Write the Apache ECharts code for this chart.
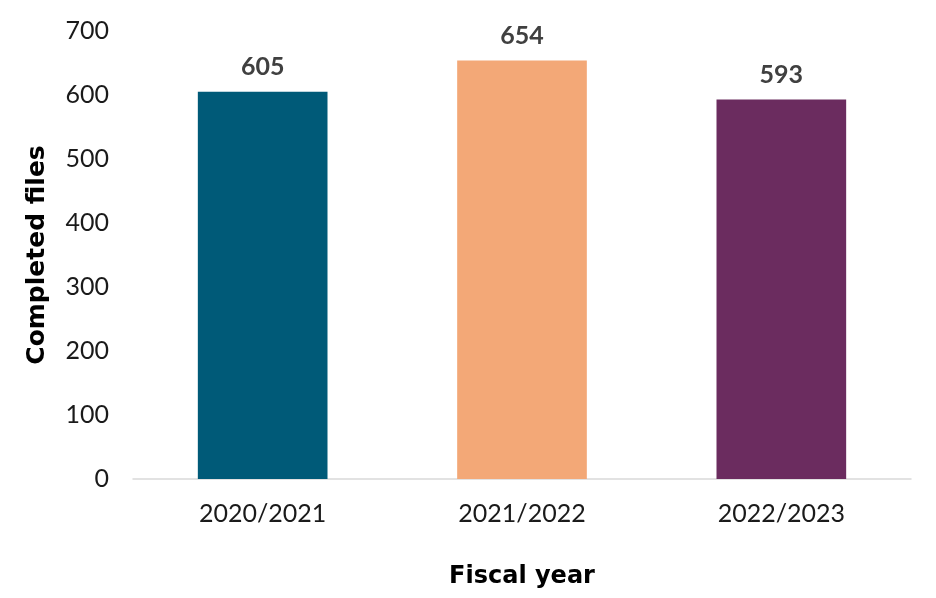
<!DOCTYPE html>
<html><head><meta charset="utf-8">
<script src="https://cdn.jsdelivr.net/npm/echarts@6/dist/echarts.min.js"></script>
<style>html,body{margin:0;padding:0;background:#fff}#c{width:936px;height:598px}</style>
</head><body><div id="c"></div>
<script>
const categories = ['2020/2021', '2021/2022', '2022/2023'];
const values = [605, 654, 593];
const barColors = ['#005A78', '#F3A877', '#6B2C5F'];
const yTicks = { min: 0, max: 700, interval: 100 };

const chart = echarts.init(document.getElementById('c'));
chart.setOption({
  animation: false,
  grid: { left: 133, right: 25, top: 31, bottom: 119, containLabel: false, outerBoundsMode: 'none' },
  xAxis: {
    type: 'category',
    data: categories,
    name: 'Fiscal year',
    nameLocation: 'middle',
    nameGap: 86,
    nameTextStyle: { fontFamily: 'DejaVu Sans', fontWeight: 'bold', fontSize: 24, color: '#000' },
    axisLine: { lineStyle: { color: '#d9d9d9', width: 1.5 } },
    axisTick: { show: false },
    axisLabel: { fontFamily: 'Lato', fontSize: 25, color: '#1a1a1a', margin: 22 }
  },
  yAxis: {
    type: 'value',
    min: yTicks.min, max: yTicks.max, interval: yTicks.interval,
    name: 'Completed files',
    nameLocation: 'middle',
    nameGap: 83,
    nameTextStyle: { fontFamily: 'DejaVu Sans', fontWeight: 'bold', fontSize: 25, color: '#000' },
    splitLine: { show: false },
    axisLine: { show: false },
    axisTick: { show: false },
    axisLabel: { fontFamily: 'Lato', fontSize: 25, color: '#1a1a1a', margin: 24 }
  },
  series: [{
    type: 'bar',
    barWidth: '50%',
    data: values.map((v, i) => ({ value: v, itemStyle: { color: barColors[i] } })),
    label: {
      show: true, position: 'top', distance: 12,
      fontFamily: 'Lato', fontWeight: 'bold', fontSize: 25, color: '#404040'
    }
  }]
});
</script></body></html>
